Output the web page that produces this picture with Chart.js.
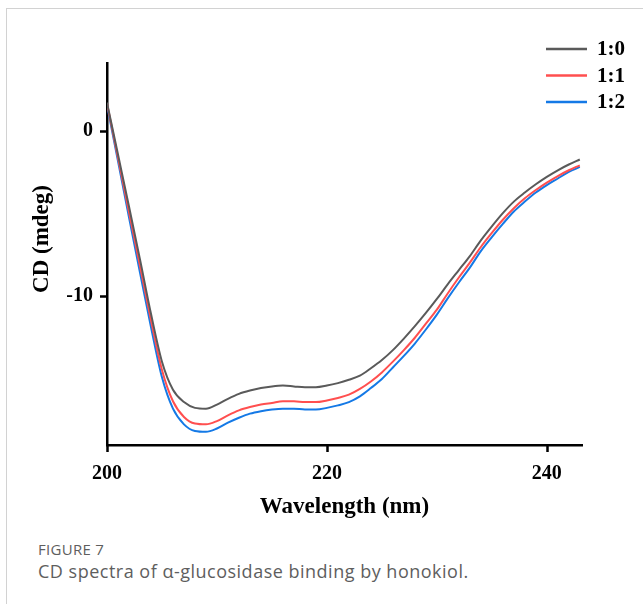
<!DOCTYPE html>
<html>
<head>
<meta charset="utf-8">
<script src="https://cdn.jsdelivr.net/npm/chart.js@4.4.0/dist/chart.umd.min.js"></script>
<style>
  body { margin: 0; background: #fff; }
  #figura { position: relative; width: 643px; height: 604px; overflow: hidden; }
  #moldura { position: absolute; left: 6px; top: 8px; width: 700px; height: 700px;
    border-top: 1px solid #d2d2d2; border-left: 1px solid #d2d2d2; }
  #grafico { position: absolute; left: 0; top: 0; }
  .legenda { position: absolute; left: 38px; margin: 0; font-family: "Open Sans"; color: #5e5e5e; white-space: nowrap; }
</style>
</head>
<body>
<div id="figura">
  <div id="moldura"></div>
  <canvas id="grafico" width="643" height="530"></canvas>
  <p class="legenda" style="top:539px;font-size:15px;line-height:20px;letter-spacing:0.3px;">FIGURE 7</p>
  <p class="legenda" style="top:559px;font-size:18px;line-height:24px;letter-spacing:0.5px;">CD spectra of α-glucosidase binding by honokiol.</p>
</div>
<script>
//comprimento de onda (nm)
const comprimentos = [200, 201, 202, 203, 204, 205, 206, 207, 208, 209, 210, 211, 212, 213, 214,
  215, 216, 217, 218, 219, 220, 221, 222, 223, 224, 225, 226, 227, 228, 229, 230, 231, 232,
  233, 234, 235, 236, 237, 238, 239, 240, 241, 242, 243];

//CD (mdeg) de cada proporcao
const cd10 = [1.7, -1.45, -4.6, -7.8, -11.1, -14.0, -15.7, -16.45, -16.8, -16.85, -16.6, -16.25,
  -15.95, -15.75, -15.6, -15.5, -15.45, -15.5, -15.55, -15.55, -15.45, -15.3, -15.1, -14.85,
  -14.4, -13.9, -13.3, -12.6, -11.85, -11.05, -10.2, -9.3, -8.45, -7.6, -6.65, -5.8, -5.0,
  -4.3, -3.75, -3.25, -2.8, -2.4, -2.05, -1.75];
const cd11 = [1.65, -1.65, -4.95, -8.2, -11.5, -14.5, -16.4, -17.35, -17.75, -17.8, -17.6, -17.25,
  -16.95, -16.75, -16.6, -16.5, -16.4, -16.4, -16.45, -16.45, -16.35, -16.2, -16.0, -15.65,
  -15.2, -14.65, -14.0, -13.3, -12.55, -11.7, -10.85, -9.85, -8.9, -8.0, -7.05, -6.2, -5.4,
  -4.7, -4.1, -3.6, -3.15, -2.75, -2.4, -2.1];
const cd12 = [1.55, -1.85, -5.25, -8.6, -11.9, -14.95, -16.85, -17.8, -18.2, -18.25, -18.05, -17.7,
  -17.4, -17.15, -17.0, -16.9, -16.85, -16.85, -16.9, -16.9, -16.8, -16.65, -16.45, -16.1,
  -15.6, -15.05, -14.35, -13.65, -12.9, -12.05, -11.15, -10.15, -9.2, -8.3, -7.3, -6.45, -5.65,
  -4.9, -4.3, -3.75, -3.3, -2.9, -2.5, -2.2];

const series = ["1:0", "1:1", "1:2"];
const cores = ["#5a5a5a", "#ff4f4f", "#1479e6"];

//marcas dos eixos
const ticksX = [200, 220, 240];
const ticksY = [-10, 0];

const fonteSerif = '"Liberation Serif", "Times New Roman", serif';

function pontos(valores) {
  return comprimentos.map((c, i) => ({ x: c, y: valores[i] }));
}

//tracinhos das marcas, para fora dos eixos
const tracosEixos = {
  id: "tracosEixos",
  afterDraw(chart) {
    const ctx = chart.ctx;
    const sx = chart.scales.x;
    const sy = chart.scales.y;
    const area = chart.chartArea;
    ctx.save();
    ctx.strokeStyle = "#000";
    ctx.lineWidth = 2.5;
    ctx.beginPath();
    sx.ticks.forEach((t) => {
      const px = Math.round(sx.getPixelForValue(t.value)) + 0.5;
      ctx.moveTo(px, area.bottom);
      ctx.lineTo(px, area.bottom + 7);
    });
    sy.ticks.forEach((t) => {
      const py = Math.round(sy.getPixelForValue(t.value)) + 0.5;
      ctx.moveTo(area.left, py);
      ctx.lineTo(area.left - 7, py);
    });
    ctx.stroke();
    ctx.restore();
  },
};

//legenda no canto superior direito
const legendaCanto = {
  id: "legendaCanto",
  afterDraw(chart) {
    const ctx = chart.ctx;
    chart.data.datasets.forEach((ds, i) => {
      const y = 49 + i * 26.5;
      ctx.save();
      ctx.strokeStyle = ds.borderColor;
      ctx.lineWidth = 2.5;
      ctx.beginPath();
      ctx.moveTo(546, y);
      ctx.lineTo(587, y);
      ctx.stroke();
      ctx.fillStyle = "#000";
      ctx.font = "bold 21px " + fonteSerif;
      ctx.textBaseline = "middle";
      ctx.fillText(ds.label, 597, y + 1);
      ctx.restore();
    });
  },
};

//titulo do eixo y
const tituloY = {
  id: "tituloY",
  afterDraw(chart) {
    const ctx = chart.ctx;
    ctx.save();
    ctx.translate(42, 239);
    ctx.rotate(-Math.PI / 2);
    ctx.fillStyle = "#000";
    ctx.font = "bold 23px " + fonteSerif;
    ctx.textAlign = "center";
    ctx.textBaseline = "middle";
    ctx.fillText("CD (mdeg)", 0, 0);
    ctx.restore();
  },
};

const ctxGrafico = document.getElementById("grafico").getContext("2d");

new Chart(ctxGrafico, {
  type: "line",
  data: {
    datasets: series.map((nome, i) => ({
      label: nome,
      data: pontos([cd10, cd11, cd12][i]),
      borderColor: cores[i],
      borderWidth: 2,
      pointRadius: 0,
      cubicInterpolationMode: "monotone",
      fill: false,
    })),
  },
  options: {
    responsive: false,
    devicePixelRatio: 1,
    animation: false,
    layout: { padding: { left: 0, right: 61, top: 63, bottom: 0 } },
    plugins: { legend: { display: false }, tooltip: { enabled: false } },
    scales: {
      x: {
        type: "linear",
        min: 200,
        max: 243.2,
        afterBuildTicks: (s) => { s.ticks = ticksX.map((v) => ({ value: v })); },
        afterFit: (s) => { s.height = 85; },
        border: { display: true, color: "#000", width: 2.5 },
        grid: { display: false, drawTicks: true, tickLength: 7 },
        ticks: { color: "#000", padding: 10, font: { family: fonteSerif, size: 20, weight: "bold" } },
        title: {
          display: true,
          text: "Wavelength (nm)",
          color: "#000",
          padding: { top: 0, bottom: 9 },
          font: { family: fonteSerif, size: 23, weight: "bold" },
        },
      },
      y: {
        min: -19.05,
        max: 4.1,
        afterBuildTicks: (s) => { s.ticks = ticksY.map((v) => ({ value: v })); },
        afterFit: (s) => { s.width = 107; },
        border: { display: true, color: "#000", width: 2.5 },
        grid: { display: false, drawTicks: true, tickLength: 7 },
        ticks: { color: "#000", padding: 7, font: { family: fonteSerif, size: 20, weight: "bold" } },
      },
    },
  },
  plugins: [tracosEixos, legendaCanto, tituloY],
});
</script>
</body>
</html>
